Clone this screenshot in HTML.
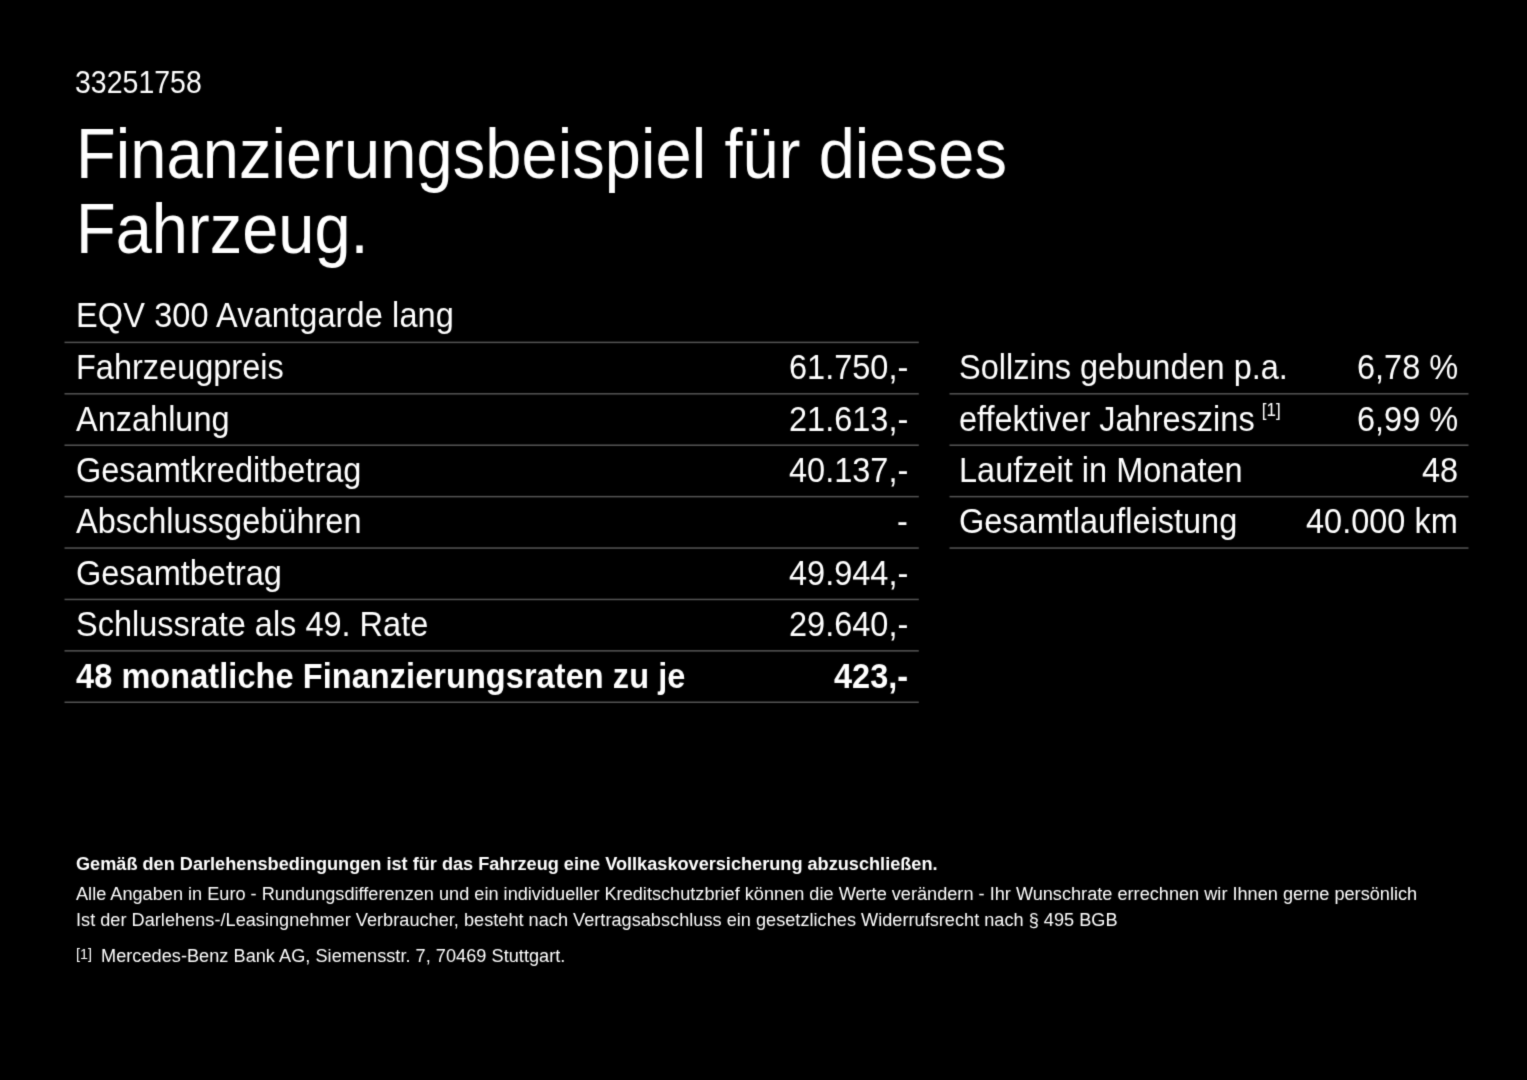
<!DOCTYPE html>
<html lang="de"><head><meta charset="utf-8"><title>Finanzierungsbeispiel</title><style>
html,body{margin:0;padding:0;background:#000;}
body{width:1527px;height:1080px;position:relative;overflow:hidden;color:#fff;font-family:"Liberation Sans",sans-serif;}
#page{position:absolute;left:0;top:0;width:1527px;height:1080px;background:#000;overflow:hidden;filter:url(#soft);}
#rules{position:absolute;left:0;top:0;}
.t{will-change:transform;position:absolute;white-space:nowrap;line-height:1;margin:0;padding:0;transform:scaleY(1.06);transform-origin:0 0.8465em;}
.b{font-weight:bold;}
.r{font-size:0.523em;position:relative;top:-0.84em;margin-left:0.42em;}
</style></head><body><svg width="0" height="0" style="position:absolute" aria-hidden="true"><defs><filter id="soft" x="0" y="0" width="100%" height="100%" color-interpolation-filters="sRGB"><feConvolveMatrix order="3" kernelMatrix="0.01917 0.10012 0.01917 0.10012 0.52283 0.10012 0.01917 0.10012 0.01917" divisor="1" edgeMode="duplicate" preserveAlpha="true"/></filter></defs></svg><div id="page">
<svg id="rules" width="1527" height="1080" viewBox="0 0 1527 1080" fill="#555"><rect x="64.5" y="341.65" width="854.30" height="1.5"/><rect x="64.5" y="393.06" width="854.30" height="1.5"/><rect x="64.5" y="444.47" width="854.30" height="1.5"/><rect x="64.5" y="495.88" width="854.30" height="1.5"/><rect x="64.5" y="547.29" width="854.30" height="1.5"/><rect x="64.5" y="598.70" width="854.30" height="1.5"/><rect x="64.5" y="650.11" width="854.30" height="1.5"/><rect x="64.5" y="701.52" width="854.30" height="1.5"/><rect x="949.5" y="393.06" width="519.00" height="1.5"/><rect x="949.5" y="444.47" width="519.00" height="1.5"/><rect x="949.5" y="495.88" width="519.00" height="1.5"/><rect x="949.5" y="547.29" width="519.00" height="1.5"/></svg>
<div class="t" style="left:75.30px;top:68.97px;font-size:28.5px;transform:scaleY(1.11);">33251758</div>
<div class="t" style="left:76.00px;top:122.78px;font-size:65px;letter-spacing:0.075px;transform:scaleY(1.07);">Finanzierungsbeispiel für dieses</div>
<div class="t" style="left:76.00px;top:198.28px;font-size:65px;transform:scaleY(1.07);">Fahrzeug.</div>
<div class="t" style="left:76.00px;top:300.49px;font-size:32.5px;letter-spacing:0.12px;">EQV 300 Avantgarde lang</div>
<div class="t" style="left:76.00px;top:352.19px;font-size:32.5px;">Fahrzeugpreis</div>
<div class="t" style="right:618.70px;top:352.19px;font-size:32.5px;">61.750,-</div>
<div class="t" style="left:76.00px;top:403.60px;font-size:32.5px;">Anzahlung</div>
<div class="t" style="right:618.70px;top:403.60px;font-size:32.5px;">21.613,-</div>
<div class="t" style="left:76.00px;top:455.01px;font-size:32.5px;">Gesamtkreditbetrag</div>
<div class="t" style="right:618.70px;top:455.01px;font-size:32.5px;">40.137,-</div>
<div class="t" style="left:76.00px;top:506.42px;font-size:32.5px;">Abschlussgebühren</div>
<div class="t" style="right:618.70px;top:506.42px;font-size:32.5px;">-</div>
<div class="t" style="left:76.00px;top:557.83px;font-size:32.5px;">Gesamtbetrag</div>
<div class="t" style="right:618.70px;top:557.83px;font-size:32.5px;">49.944,-</div>
<div class="t" style="left:76.00px;top:609.24px;font-size:32.5px;">Schlussrate als 49. Rate</div>
<div class="t" style="right:618.70px;top:609.24px;font-size:32.5px;">29.640,-</div>
<div class="t b" style="left:76.00px;top:660.65px;font-size:32.5px;letter-spacing:0.068px;">48 monatliche Finanzierungsraten zu je</div>
<div class="t b" style="right:618.70px;top:660.65px;font-size:32.5px;">423,-</div>
<div class="t" style="left:959.20px;top:352.19px;font-size:32.5px;">Sollzins gebunden p.a.</div>
<div class="t" style="right:69.00px;top:352.19px;font-size:32.5px;">6,78 %</div>
<div class="t" style="left:959.20px;top:403.60px;font-size:32.5px;">effektiver Jahreszins<span class="r">[1]</span></div>
<div class="t" style="right:69.00px;top:403.60px;font-size:32.5px;">6,99 %</div>
<div class="t" style="left:959.20px;top:455.01px;font-size:32.5px;">Laufzeit in Monaten</div>
<div class="t" style="right:69.00px;top:455.01px;font-size:32.5px;">48</div>
<div class="t" style="left:959.20px;top:506.42px;font-size:32.5px;">Gesamtlaufleistung</div>
<div class="t" style="right:69.00px;top:506.42px;font-size:32.5px;">40.000 km</div>
<div class="t b" style="left:76.00px;top:855.04px;font-size:18.15px;">Gemäß den Darlehensbedingungen ist für das Fahrzeug eine Vollkaskoversicherung abzuschließen.</div>
<div class="t" style="left:76.00px;top:884.64px;font-size:18.15px;letter-spacing:0.006px;">Alle Angaben in Euro - Rundungsdifferenzen und ein individueller Kreditschutzbrief können die Werte verändern - Ihr Wunschrate errechnen wir Ihnen gerne persönlich</div>
<div class="t" style="left:76.00px;top:910.54px;font-size:18.15px;letter-spacing:0.016px;">Ist der Darlehens-/Leasingnehmer Verbraucher, besteht nach Vertragsabschluss ein gesetzliches Widerrufsrecht nach § 495 BGB</div>
<div class="t" style="left:75.50px;top:946.90px;font-size:14.3px;">[1]</div>
<div class="t" style="left:101.00px;top:946.54px;font-size:18.15px;letter-spacing:0.03px;">Mercedes-Benz Bank AG, Siemensstr. 7, 70469 Stuttgart.</div>
</div></body></html>
